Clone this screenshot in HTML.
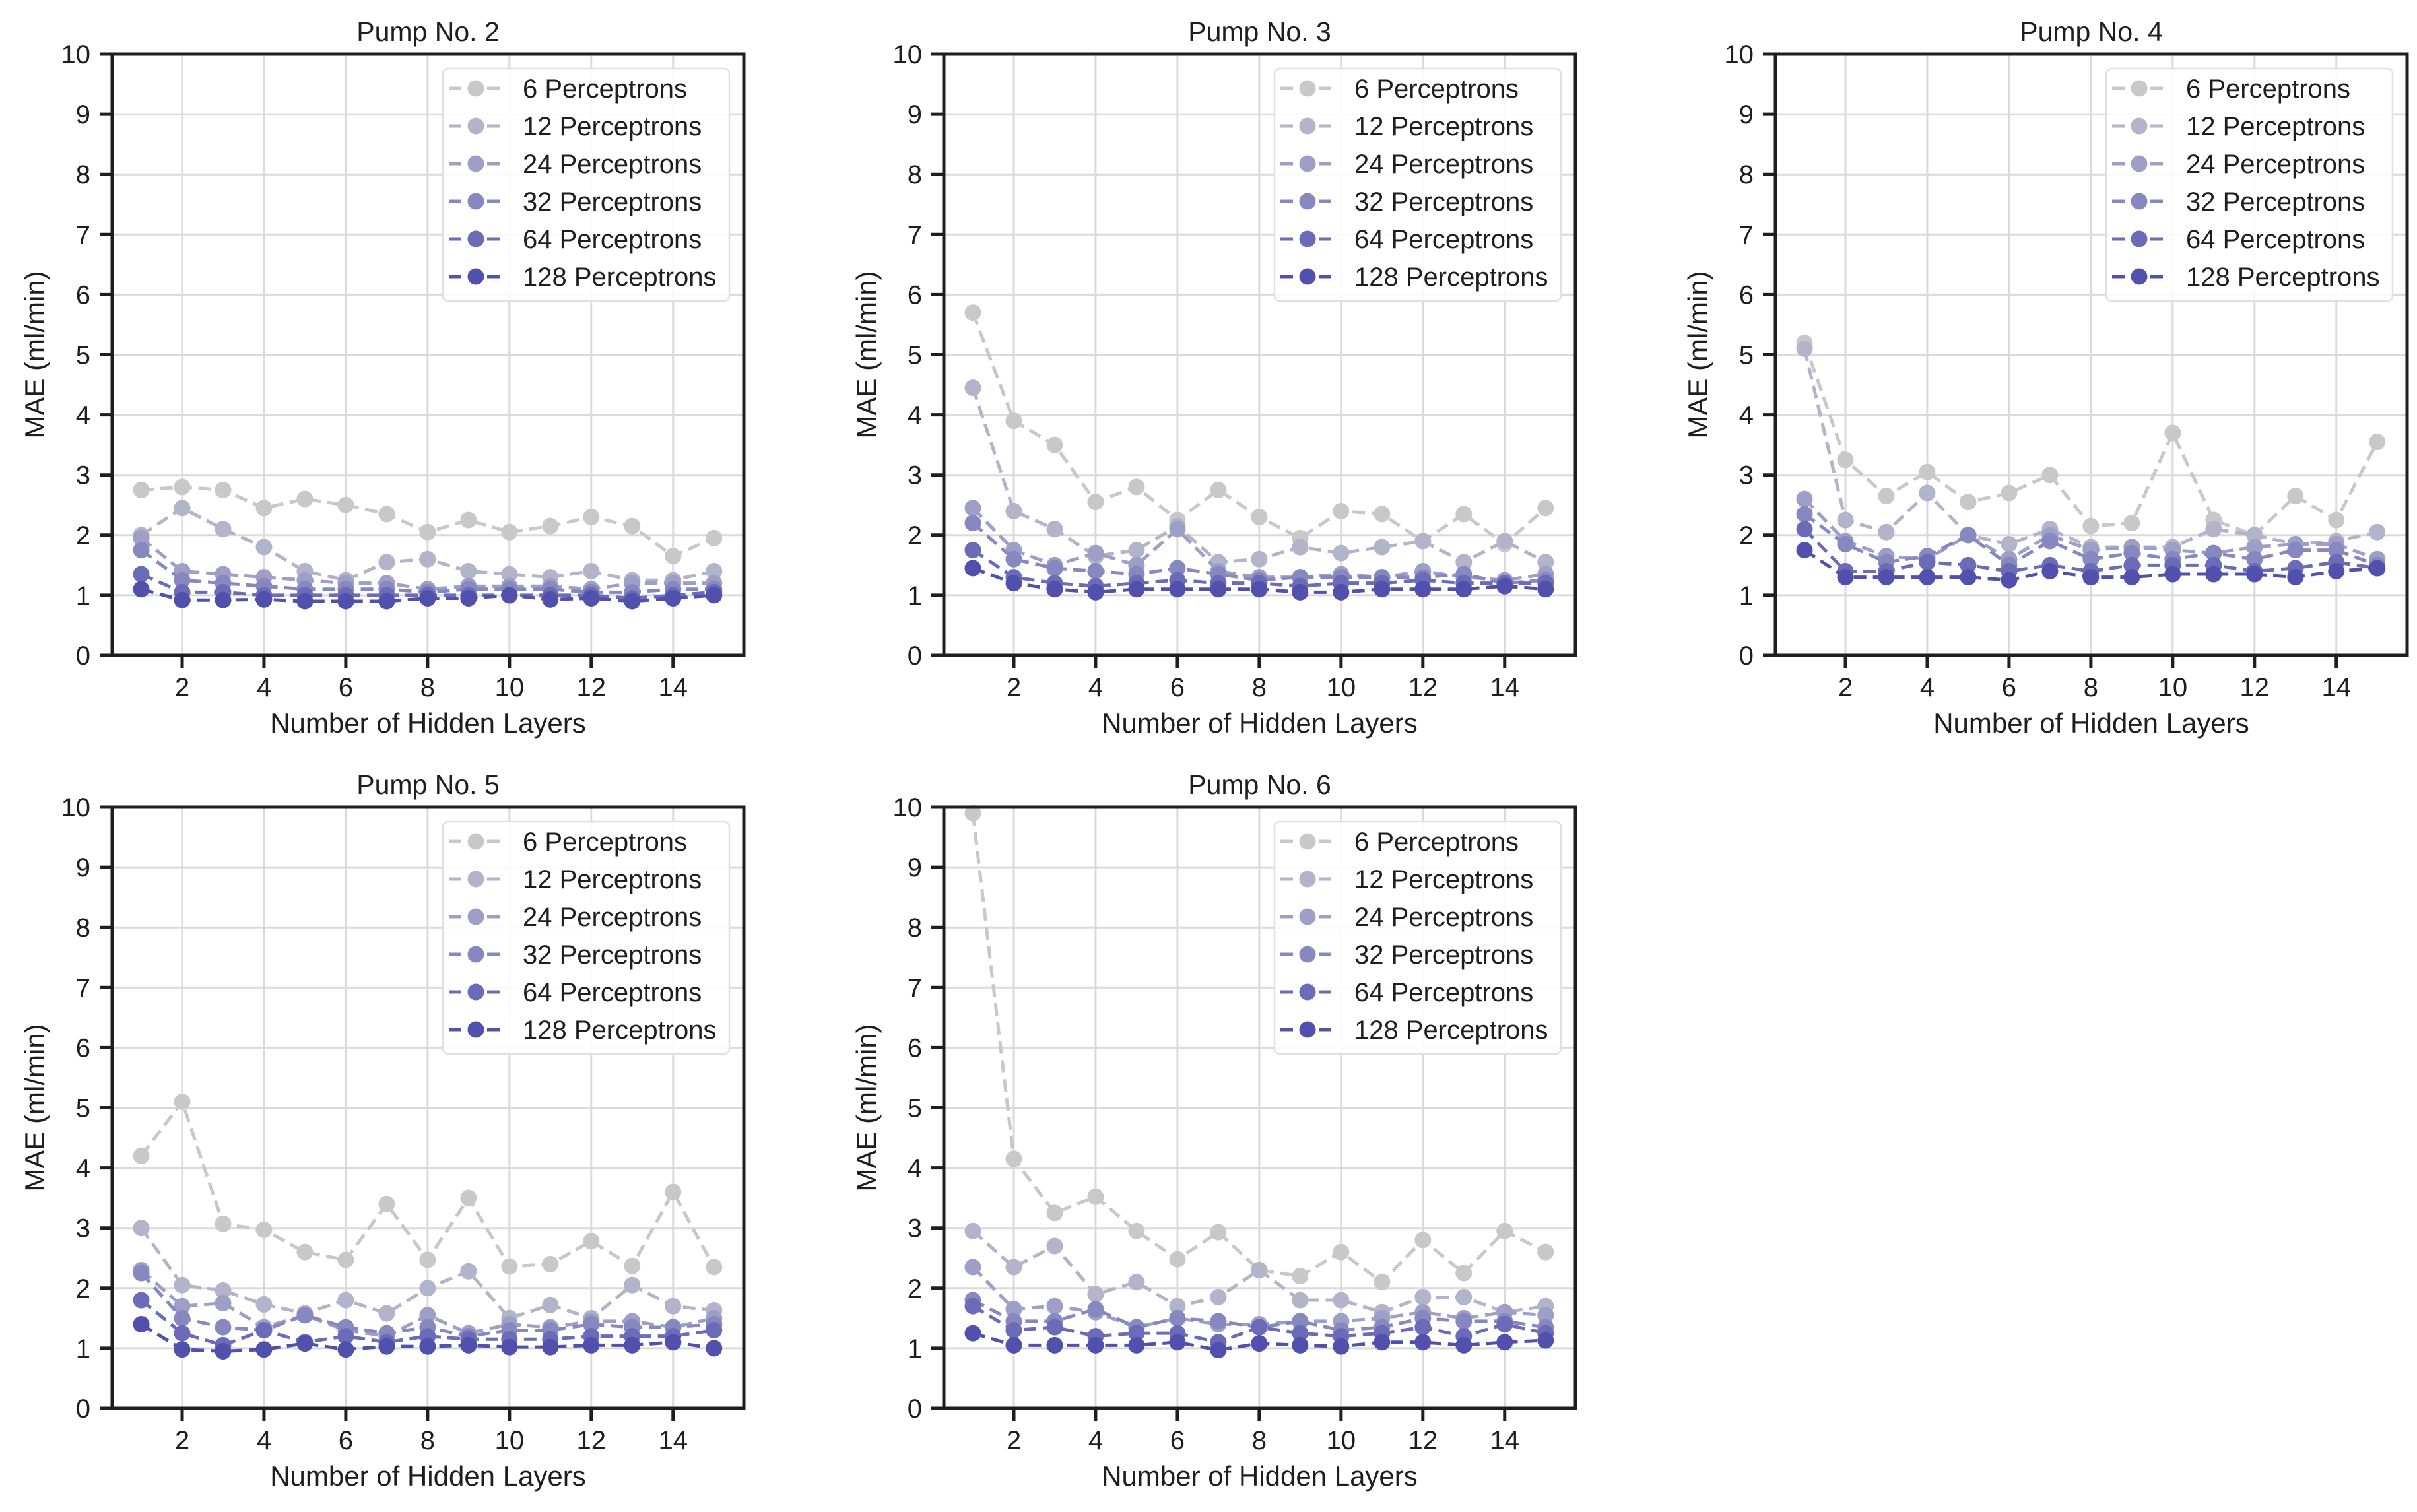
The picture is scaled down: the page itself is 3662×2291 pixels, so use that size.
<!DOCTYPE html>
<html><head><meta charset="utf-8">
<style>
html,body{margin:0;padding:0;background:#fff;}
svg{display:block;font-family:"Liberation Sans",Arial,sans-serif;}
</style></head>
<body>
<svg id="fig" width="3662" height="2291" viewBox="0 0 3662 2291" xmlns="http://www.w3.org/2000/svg"></svg>
<script>
const layers = [1,2,3,4,5,6,7,8,9,10,11,12,13,14,15];
const seriesNames = ["6 Perceptrons","12 Perceptrons","24 Perceptrons","32 Perceptrons","64 Perceptrons","128 Perceptrons"];
const xTicks = [2,4,6,8,10,12,14];
const yTicks = [0,1,2,3,4,5,6,7,8,9,10];
const panelTitles = ["Pump No. 2","Pump No. 3","Pump No. 4","Pump No. 5","Pump No. 6"];

const pump2_6   = [2.75,2.8,2.75,2.45,2.6,2.5,2.35,2.05,2.25,2.05,2.15,2.3,2.15,1.65,1.95];
const pump2_12  = [2.0,2.45,2.1,1.8,1.4,1.25,1.55,1.6,1.4,1.35,1.3,1.4,1.25,1.25,1.4];
const pump2_24  = [1.95,1.4,1.35,1.3,1.25,1.2,1.2,1.1,1.15,1.15,1.15,1.1,1.2,1.2,1.2];
const pump2_32  = [1.75,1.25,1.2,1.15,1.1,1.1,1.1,1.05,1.1,1.1,1.1,1.05,1.05,1.1,1.1];
const pump2_64  = [1.35,1.05,1.05,1.0,1.0,1.0,1.0,1.0,1.0,1.0,1.0,1.0,0.95,1.0,1.05];
const pump2_128 = [1.1,0.92,0.92,0.93,0.9,0.9,0.9,0.95,0.95,1.0,0.93,0.95,0.9,0.95,1.0];

const pump3_6   = [5.7,3.9,3.5,2.55,2.8,2.25,2.75,2.3,1.95,2.4,2.35,1.9,2.35,1.85,2.45];
const pump3_12  = [4.45,2.4,2.1,1.65,1.75,2.15,1.55,1.6,1.8,1.7,1.8,1.9,1.55,1.9,1.55];
const pump3_24  = [2.45,1.75,1.5,1.7,1.5,2.1,1.4,1.3,1.3,1.35,1.3,1.4,1.3,1.25,1.35];
const pump3_32  = [2.2,1.6,1.45,1.4,1.35,1.45,1.35,1.25,1.3,1.3,1.3,1.3,1.35,1.2,1.25];
const pump3_64  = [1.75,1.3,1.2,1.15,1.2,1.25,1.2,1.2,1.15,1.2,1.2,1.25,1.2,1.2,1.2];
const pump3_128 = [1.45,1.2,1.1,1.05,1.1,1.1,1.1,1.1,1.05,1.05,1.1,1.1,1.1,1.15,1.1];

const pump4_6   = [5.2,3.25,2.65,3.05,2.55,2.7,3.0,2.15,2.2,3.7,2.25,2.0,2.65,2.25,3.55];
const pump4_12  = [5.1,2.25,2.05,2.7,2.0,1.85,2.1,1.8,1.8,1.8,2.1,2.0,1.85,1.9,2.05];
const pump4_24  = [2.6,1.9,1.65,1.6,2.0,1.6,2.0,1.75,1.8,1.75,1.7,1.8,1.85,1.85,1.6];
const pump4_32  = [2.35,1.85,1.55,1.65,2.0,1.5,1.9,1.6,1.7,1.6,1.7,1.6,1.75,1.75,1.5];
const pump4_64  = [2.1,1.4,1.4,1.55,1.5,1.4,1.5,1.4,1.5,1.5,1.5,1.4,1.45,1.55,1.45];
const pump4_128 = [1.75,1.3,1.3,1.3,1.3,1.25,1.4,1.3,1.3,1.35,1.35,1.35,1.3,1.4,1.45];

const pump5_6   = [4.2,5.1,3.07,2.97,2.6,2.47,3.4,2.47,3.5,2.36,2.4,2.78,2.37,3.6,2.35];
const pump5_12  = [3.0,2.05,1.96,1.73,1.58,1.8,1.58,2.0,2.28,1.5,1.72,1.5,2.05,1.7,1.63];
const pump5_24  = [2.3,1.7,1.75,1.35,1.55,1.3,1.2,1.55,1.25,1.4,1.35,1.45,1.45,1.35,1.5];
const pump5_32  = [2.25,1.5,1.35,1.3,1.55,1.35,1.25,1.35,1.2,1.3,1.3,1.4,1.35,1.35,1.4];
const pump5_64  = [1.8,1.25,1.05,1.3,1.1,1.2,1.1,1.2,1.15,1.15,1.15,1.2,1.2,1.2,1.3];
const pump5_128 = [1.4,0.98,0.95,0.98,1.08,0.98,1.03,1.03,1.05,1.02,1.02,1.05,1.05,1.1,1.0];

const pump6_6   = [9.9,4.15,3.25,3.52,2.95,2.48,2.93,2.3,2.2,2.6,2.1,2.8,2.25,2.95,2.6];
const pump6_12  = [2.95,2.35,2.7,1.9,2.1,1.7,1.85,2.3,1.8,1.8,1.6,1.85,1.85,1.6,1.7];
const pump6_24  = [2.35,1.65,1.7,1.6,1.35,1.5,1.4,1.4,1.45,1.45,1.5,1.6,1.5,1.6,1.55];
const pump6_32  = [1.8,1.45,1.45,1.65,1.35,1.5,1.45,1.35,1.45,1.3,1.35,1.5,1.45,1.45,1.35];
const pump6_64  = [1.7,1.3,1.35,1.2,1.25,1.25,1.1,1.35,1.25,1.2,1.25,1.35,1.2,1.4,1.25];
const pump6_128 = [1.25,1.05,1.05,1.05,1.05,1.1,0.97,1.08,1.05,1.03,1.1,1.1,1.05,1.1,1.13];

const panelData = [
  [pump2_6,pump2_12,pump2_24,pump2_32,pump2_64,pump2_128],
  [pump3_6,pump3_12,pump3_24,pump3_32,pump3_64,pump3_128],
  [pump4_6,pump4_12,pump4_24,pump4_32,pump4_64,pump4_128],
  [pump5_6,pump5_12,pump5_24,pump5_32,pump5_64,pump5_128],
  [pump6_6,pump6_12,pump6_24,pump6_32,pump6_64,pump6_128]
];

const colors = ["#c8c8c8","#b3b3c9","#9e9ec6","#8888c1","#6b6bb8","#5151ad"];
const NS = "http://www.w3.org/2000/svg";
const svg = document.getElementById("fig");
const W = 957, H = 911, XMIN = 0.29, XMAX = 15.73, YMIN = 0, YMAX = 10;
const origins = [[170,82],[1430,82],[2690,82],[170,1223],[1430,1223]];

function mk(tag, attrs, parent){
  const e = document.createElementNS(NS, tag);
  for (const k in attrs) e.setAttribute(k, attrs[k]);
  parent.appendChild(e);
  return e;
}

panelData.forEach((series, p) => {
  const [ox, oy] = origins[p];
  const sx = v => ox + (v - XMIN) / (XMAX - XMIN) * W;
  const sy = v => oy + H - (v - YMIN) / (YMAX - YMIN) * H;
  const g = mk("g", {}, svg);
  
  

  xTicks.forEach(t => {
    const l = mk("line", {x1:sx(t), x2:sx(t), y1:oy, y2:oy+H, stroke:"#dadada", "stroke-width":3}, g);
    
    
  });
  yTicks.forEach(t => {
    const l = mk("line", {x1:ox, x2:ox+W, y1:sy(t), y2:sy(t), stroke:"#dadada", "stroke-width":3}, g);
    
    
  });

  series.forEach((vals, s) => {
    const pts = vals.map((v, i) => sx(layers[i]) + "," + sy(v)).join(" ");
    const pl = mk("polyline", {points:pts, fill:"none", stroke:colors[s], "stroke-width":5, "stroke-dasharray":"19 10"}, g);
    
    
    vals.forEach((v, i) => {
      const c = mk("circle", {cx:sx(layers[i]), cy:sy(v), r:12.5, fill:colors[s]}, g);
      
      
    });
  });

  const fr = mk("rect", {x:ox, y:oy, width:W, height:H, fill:"none", stroke:"#1e1e1e", "stroke-width":5}, g);
  
  

  xTicks.forEach(t => {
    mk("line", {x1:sx(t), x2:sx(t), y1:oy+H, y2:oy+H+19, stroke:"#1e1e1e", "stroke-width":5}, g);
    const tx = mk("text", {x:sx(t), y:oy+H+62, "text-anchor":"middle", "font-size":40, fill:"#1e1e1e"}, g);
    tx.textContent = t;
    
    
  });
  yTicks.forEach(t => {
    mk("line", {x1:ox-19, x2:ox, y1:sy(t), y2:sy(t), stroke:"#1e1e1e", "stroke-width":5}, g);
    const tx = mk("text", {x:ox-33, y:sy(t)+14, "text-anchor":"end", "font-size":40, fill:"#1e1e1e"}, g);
    tx.textContent = t;
    
    
  });

  const title = mk("text", {x:ox+W/2, y:oy-20, "text-anchor":"middle", "font-size":41, fill:"#1e1e1e"}, g);
  title.textContent = panelTitles[p];
  
  

  const xl = mk("text", {x:ox+W/2, y:oy+H+117, "text-anchor":"middle", "font-size":42, fill:"#1e1e1e"}, g);
  xl.textContent = "Number of Hidden Layers";
  
  

  const yl = mk("text", {x:0, y:0, "text-anchor":"middle", "font-size":42, fill:"#1e1e1e", transform:"translate(" + (ox-103) + "," + (oy+H/2) + ") rotate(-90)"}, g);
  yl.textContent = "MAE (ml/min)";
  
  

  const lg = mk("g", {}, g);
  
  
  mk("rect", {x:ox+501, y:oy+22, width:434, height:352, rx:8, fill:"#fff", "fill-opacity":0.85, stroke:"#e0e0e0", "stroke-width":2.5}, lg);
  seriesNames.forEach((n, s) => {
    const ey = oy + 52 + s * 57;
    const ent = mk("g", {}, lg);
    
    
    mk("line", {x1:ox+510, x2:ox+592, y1:ey, y2:ey, stroke:colors[s], "stroke-width":5, "stroke-dasharray":"19 10"}, ent);
    mk("circle", {cx:ox+551, cy:ey, r:12.5, fill:colors[s]}, ent);
    const t = mk("text", {x:ox+622, y:ey+14, "font-size":40, fill:"#1e1e1e"}, ent);
    t.textContent = n;
  });
});
</script>
</body></html>
